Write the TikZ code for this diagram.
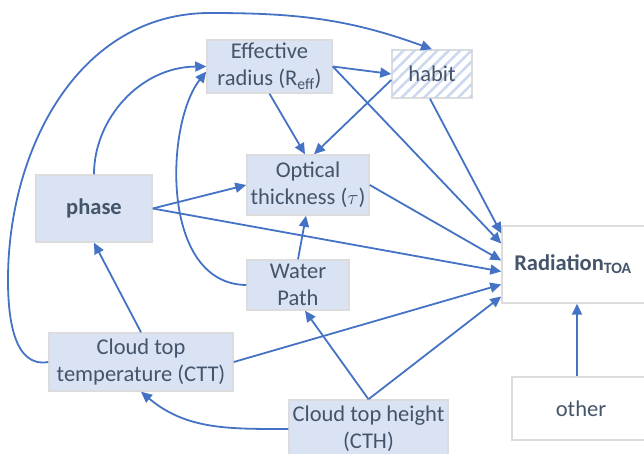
\documentclass[tikz,border=0pt]{standalone}
\usepackage{fontspec}
\setmainfont{Carlito}
\usetikzlibrary{arrows.meta,patterns.meta,calc}
\definecolor{edgeblue}{HTML}{4472C4}
\definecolor{boxfill}{HTML}{DAE3F3}
\definecolor{boxline}{HTML}{DCDCDC}
\definecolor{txt}{HTML}{44546A}
\definecolor{hatch}{HTML}{CBD8EE}

\begin{document}
\begin{tikzpicture}[x=1pt,y=1pt,
  box/.style={draw=boxline, line width=1.5pt, fill=boxfill, text=txt, align=center,
              inner sep=2pt, font=\fontsize{22.5}{27}\selectfont},
  plainbox/.style={box, fill=white},
  hatchbox/.style={box, fill=white,
              postaction={pattern={Lines[angle=45,distance=8pt,line width=2.5pt]}, pattern color=hatch}},
  link/.style={draw=edgeblue, line width=1.8pt, -{Triangle[length=11pt,width=10pt]}}
]
\useasboundingbox (0,0) rectangle (644,454);

% cloud properties
\node[box, minimum width=125, minimum height=53] (reff) at (269.5,387.5) {Effective\\radius (R\textsubscript{eff})};
\node[hatchbox, minimum width=80, minimum height=48] (habit) at (432,380) {habit};
\node[box, minimum width=122, minimum height=60] (tau) at (308,269) {Optical\\thickness ($\tau$)};
\node[box, minimum width=116, minimum height=67, font=\fontsize{22.5}{27}\selectfont\bfseries] (phase) at (94,245.5) {phase};
\node[box, minimum width=102, minimum height=50] (wp) at (298,169) {Water\\Path};
\node[box, minimum width=184, minimum height=58] (ctt) at (141,92) {Cloud top\\temperature (CTT)};
\node[box, minimum width=159, minimum height=58] (cth) at (368.5,25) {Cloud top height\\(CTH)};

% outcome and other factors
\node[plainbox, minimum width=148, minimum height=77, font=\fontsize{22.5}{27}\selectfont\bfseries] (rad) at (576,189.5) {Radiation\textsubscript{TOA}\hspace{6pt}};
\node[plainbox, minimum width=138, minimum height=63] (other) at (581,45.5) {other};

% waypoints of the long loop
\coordinate (loopL) at (8,174);
\coordinate (loopT) at (210,441);

% connectors
\draw[link] (phase.north) .. controls (94,335) and (140,387) .. (reff.west);
\draw[link] (wp.west) .. controls (160,170) and (165,330) .. ([yshift=-5]reff.west);
\draw[link] (ctt.west) to[out=190,in=270] (loopL) to[out=90,in=180] (loopT) to[out=0,in=160] (habit.north);
\draw[link] (reff.east) -- (habit.west);
\draw[link] (reff.south) -- ([xshift=-3]tau.north);
\draw[link] ([yshift=-6]habit.west) -- ([xshift=6]tau.north);
\draw[link] (reff.east) -- ([yshift=21]rad.west);
\draw[link] ([xshift=-2]habit.south) -- ([yshift=31]rad.west);
\draw[link] (tau.east) -- ([yshift=4]rad.west);
\draw[link] (phase.east) -- (tau.west);
\draw[link] (phase.east) -- ([yshift=-7]rad.west);
\draw[link] (wp.north) -- ([xshift=-2]tau.south);
\draw[link] (ctt.east) -- ([yshift=-20]rad.west);
\draw[link] (ctt.north) -- (phase.south);
\draw[link] (cth.north) -- ([xshift=7]wp.south);
\draw[link] (cth.north) -- ([yshift=-32]rad.west);
\draw[link] (cth.west) to[out=180,in=-40] (ctt.south);
\draw[link] ([xshift=-4]other.north) -- ([xshift=1]rad.south);
\end{tikzpicture}
\end{document}
